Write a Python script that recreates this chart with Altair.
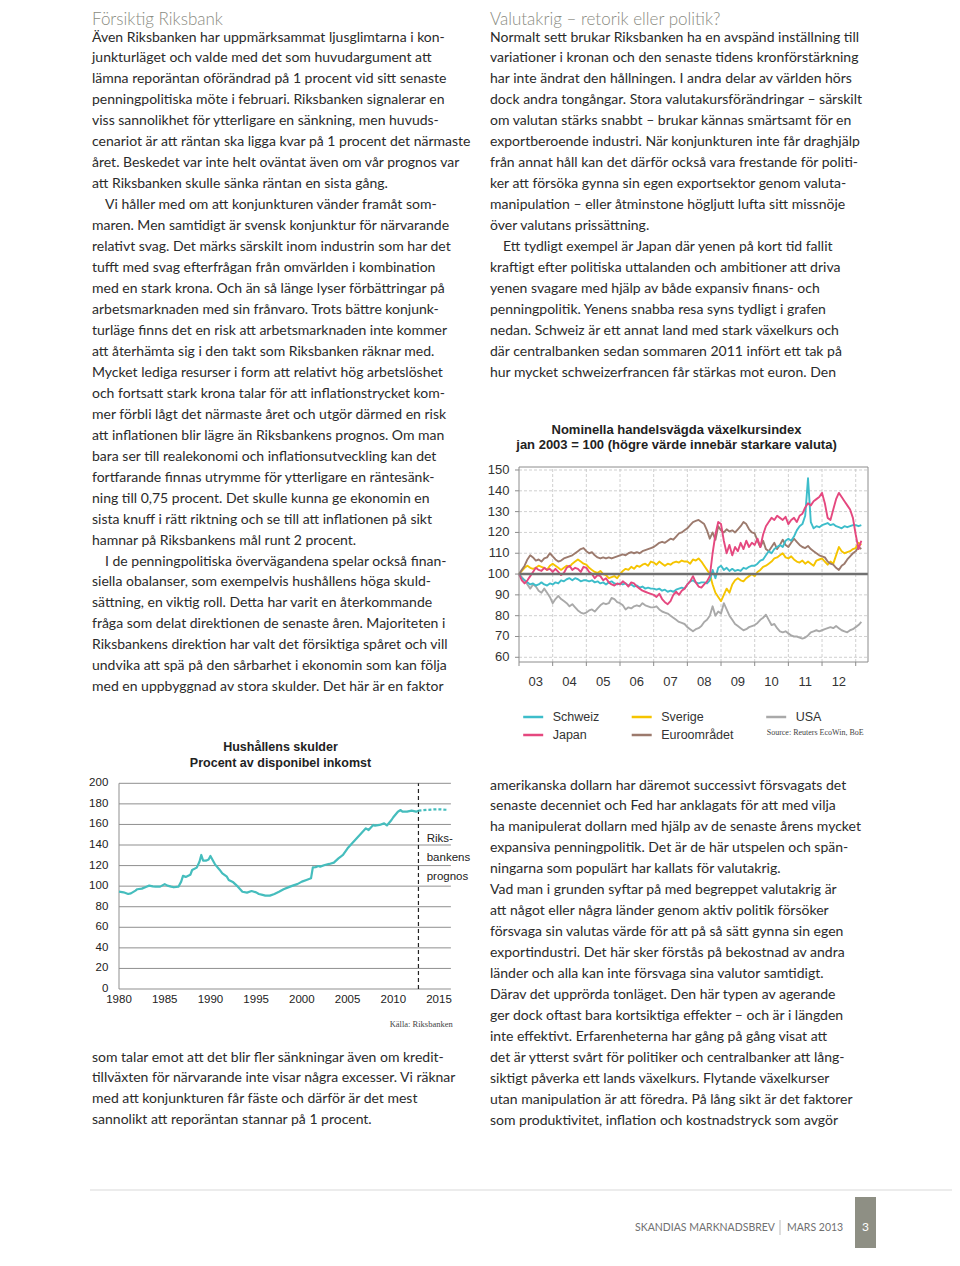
import altair as alt
import pandas as pd

# ------------------------------------------------------------------ fonts / colours
BODY_FONT = "Lato"
CHART_FONT = "Liberation Sans"
SERIF = "Liberation Serif"
BODY_COLOR = "#2b2b2b"
HEAD_COLOR = "#8a8b82"
IND = ">"  # marks a paragraph-indented line

# ------------------------------------------------------------------ page text
title_left = ["Försiktig Riksbank"]
title_right = ["Valutakrig – retorik eller politik?"]

left_top = [
    "Även Riksbanken har uppmärksammat ljusglimtarna i kon-",
    "junkturläget och valde med det som huvudargument att",
    "lämna reporäntan oförändrad på 1 procent vid sitt senaste",
    "penningpolitiska möte i februari. Riksbanken signalerar en",
    "viss sannolikhet för ytterligare en sänkning, men huvuds-",
    "cenariot är att räntan ska ligga kvar på 1 procent det närmaste",
    "året. Beskedet var inte helt oväntat även om vår prognos var",
    "att Riksbanken skulle sänka räntan en sista gång.",
    IND + "Vi håller med om att konjunkturen vänder framåt som-",
    "maren. Men samtidigt är svensk konjunktur för närvarande",
    "relativt svag. Det märks särskilt inom industrin som har det",
    "tufft med svag efterfrågan från omvärlden i kombination",
    "med en stark krona. Och än så länge lyser förbättringar på",
    "arbetsmarknaden med sin frånvaro. Trots bättre  konjunk-",
    "turläge finns det en risk att arbetsmarknaden inte kommer",
    "att återhämta sig i den takt som Riksbanken räknar med.",
    "Mycket lediga resurser i form att relativt hög arbetslöshet",
    "och fortsatt stark krona talar för att inflationstrycket kom-",
    "mer förbli lågt det närmaste året och utgör därmed en risk",
    "att inflationen blir lägre än Riksbankens prognos. Om man",
    "bara ser till realekonomi och inflationsutveckling kan det",
    "fortfarande finnas utrymme för ytterligare en räntesänk-",
    "ning till 0,75 procent. Det skulle kunna ge ekonomin en",
    "sista knuff i rätt riktning och se till att inflationen på sikt",
    "hamnar på Riksbankens mål runt 2 procent.",
    IND + "I de penningpolitiska övervägandena spelar också finan-",
    "siella obalanser, som exempelvis hushållens höga skuld-",
    "sättning, en viktig roll. Detta har varit en återkommande",
    "fråga som delat direktionen de senaste åren. Majoriteten i",
    "Riksbankens direktion har valt det försiktiga spåret och vill",
    "undvika att spä på den sårbarhet i ekonomin som kan följa",
    "med en uppbyggnad av stora skulder. Det här är en faktor",
]
left_bottom = [
    "som talar emot att det blir fler sänkningar även om kredit-",
    "tillväxten för närvarande inte visar några excesser. Vi räknar",
    "med att konjunkturen får fäste och därför är det mest",
    "sannolikt att reporäntan stannar på 1 procent.",
]
right_top = [
    "Normalt sett brukar Riksbanken ha en avspänd inställning till",
    "variationer i kronan och den senaste tidens kronförstärkning",
    "har inte ändrat den hållningen. I andra delar av världen hörs",
    "dock andra tongångar. Stora valutakursförändringar – särskilt",
    "om valutan stärks snabbt – brukar kännas smärtsamt för en",
    "exportberoende industri. När konjunkturen inte får draghjälp",
    "från annat håll kan det därför också vara frestande för politi-",
    "ker att försöka gynna sin egen exportsektor genom valuta-",
    "manipulation – eller åtminstone högljutt lufta sitt missnöje",
    "över valutans prissättning.",
    IND + "Ett tydligt exempel är Japan där yenen på kort tid fallit",
    "kraftigt efter politiska uttalanden och ambitioner att driva",
    "yenen svagare med hjälp av både expansiv finans- och",
    "penningpolitik. Yenens snabba resa syns tydligt i grafen",
    "nedan. Schweiz är ett annat land med stark växelkurs och",
    "där centralbanken sedan sommaren 2011 infört ett tak på",
    "hur mycket schweizerfrancen får stärkas mot euron. Den",
]
right_bottom = [
    "amerikanska dollarn har däremot successivt försvagats det",
    "senaste decenniet och Fed har anklagats för att med vilja",
    "ha manipulerat dollarn med hjälp av de senaste årens mycket",
    "expansiva penningpolitik. Det är de här utspelen och spän-",
    "ningarna som populärt har kallats för valutakrig.",
    "Vad man i grunden syftar på med begreppet valutakrig är",
    "att något eller några länder genom aktiv politik försöker",
    "försvaga sin valutas värde för att på så sätt gynna sin egen",
    "exportindustri. Det här sker förstås på bekostnad av andra",
    "länder och alla kan inte försvaga sina valutor samtidigt.",
    "Därav det upprörda tonläget. Den här typen av agerande",
    "ger dock oftast bara kortsiktiga effekter – och är i längden",
    "inte effektivt. Erfarenheterna har gång på gång visat att",
    "det är ytterst svårt för politiker och centralbanker att lång-",
    "siktigt påverka ett lands växelkurs. Flytande växelkurser",
    "utan manipulation är att föredra. På lång sikt är det faktorer",
    "som produktivitet, inflation och kostnadstryck som avgör",
]

# ------------------------------------------------------------------ chart 1: växelkursindex
fx_title = ["Nominella handelsvägda växelkursindex",
            "jan 2003 = 100 (högre värde innebär starkare valuta)"]
# legend order (filled column by column): Schweiz/Japan, Sverige/Euroområdet, USA
fx_order = ["Schweiz", "Japan", "Sverige", "Euroområdet", "USA"]
fx_colors = ["#3dbdca", "#e5487f", "#f5c400", "#9c7a6d", "#a9a9a9"]
fx_draw = ["USA", "Sverige", "Euroområdet", "Schweiz", "Japan"]
fx_source = "Source: Reuters EcoWin, BoE"

schweiz = [
    100, 98, 97, 96, 95, 95.5, 94.5, 95, 96, 95, 94.5, 95.5,
    95, 96, 95.5, 97, 96.5, 97.5, 98, 97, 98, 97.5, 96.5, 97,
    97, 96.5, 97, 96, 96.5, 95.5, 96, 95, 96, 96.5, 95.5, 95,
    95.5, 95, 95.5, 94.5, 95, 94, 94.5, 93.5, 94, 93, 93.5, 93,
    93, 92.5, 93, 92, 92.5, 91.5, 92, 91.5, 92.5, 93, 93.5, 93,
    95, 96.5, 97, 96, 95.5, 96, 96, 95.5, 97, 102, 98, 103,
    104, 102, 103, 101.5, 102.5, 101.5, 102, 101.5, 103, 102.5, 103.5, 104,
    104, 105, 106.5, 107, 109, 111, 110, 112, 113, 114, 113, 116,
    117, 116, 118, 121, 123, 124, 128, 146, 125, 122, 123, 122.5,
    123.5, 124, 124.5, 123.5, 124, 123, 122.5, 122, 123, 122.5, 123, 123.5,
    123.5, 123, 123.5,
]
sverige = [
    100, 101.5, 103, 104, 103, 102.5, 103, 104, 103.5, 103, 102, 104,
    105, 104, 103, 102, 103, 104, 103.5, 105, 106, 107, 106, 105,
    104.5, 103, 102, 101, 100.5, 101.5, 100, 99.5, 98, 98.5, 99, 98,
    100, 101.5, 102.5, 102, 103.5, 102.5, 104, 103.5, 104.5, 105, 104, 106,
    105.5, 104.5, 106, 105, 104, 105, 104.5, 105.5, 106, 105.5, 106.5, 106,
    106, 105, 107, 106.5, 107.5, 106, 104, 102, 100, 95, 91, 89,
    87, 90, 93, 91, 95, 97, 98, 97, 96.5, 98, 99, 100,
    99, 101, 102, 103.5, 104, 105, 106, 107.5, 108, 109, 110, 108,
    107.5, 108.5, 107, 106, 105.5, 106.5, 105, 106, 105, 104, 106.5, 107,
    107.5, 106, 104.5, 106, 105, 109, 113, 111, 110, 110.5, 111, 112,
    112.5, 115, 114,
]
usa = [
    100, 98.5, 97, 95, 93, 95, 94, 92, 91, 93, 91, 89,
    86, 88, 89.5, 88, 87, 86, 84.5, 85.5, 84, 82.5, 81.5, 81,
    81.5, 82.5, 83, 82, 83.5, 85, 86, 85.5, 86, 88.5, 88, 86.5,
    86, 85, 83, 84, 83.5, 84.5, 85, 84.5, 86, 85, 84.5, 84,
    84, 84.5, 83, 82, 81.5, 81, 80, 79, 78, 77, 76.5, 76,
    74.5, 73.5, 72.5, 73.5, 74, 75, 77, 78, 80, 84.5, 80, 82,
    81, 86, 83, 80, 78, 76, 75, 74, 73, 73.5, 74.5, 75,
    75.5, 76.5, 78, 79, 80.5, 78, 75.5, 76, 74, 72.5, 72, 72.5,
    71.5, 70.5, 70, 70, 69.5, 69, 69.5, 70.5, 72, 72.5, 73, 72.5,
    73, 73.5, 74, 74.5, 74, 75, 74, 73, 72.5, 72, 73, 73.5,
    74.5, 75.5, 77,
]
japan = [
    100, 97, 95.5, 97, 99, 101, 103, 102, 101.5, 103, 102, 102.5,
    101, 102.5, 101, 99.5, 100.5, 103, 104, 102, 103, 102.5, 101, 103.5,
    103, 101, 100, 98, 99.5, 99, 97, 98, 96, 95, 94.5, 95.5,
    95, 96.5, 95.5, 94, 96, 95.5, 94, 93, 92, 91.5, 91, 90.5,
    90, 89, 90.5, 88, 86.5, 85.5, 87, 90, 91.5, 90, 92, 93,
    95, 96.5, 99, 96, 94, 93.5, 95, 96.5, 99, 110, 119, 125,
    124, 116, 110, 114, 109, 113, 111, 115, 112, 116, 113, 115,
    114, 117, 113, 119, 123, 125, 127, 126, 128, 127, 126, 127.5,
    124, 126, 127, 125, 128, 129, 132, 134, 133, 135, 136, 137,
    139, 134, 127, 126, 131, 136, 139, 137, 135, 133, 131, 127,
    119, 112, 116,
]
euro = [
    100, 102, 104, 107, 109, 108, 106.5, 107, 106, 107.5, 108, 110,
    108.5, 107, 106, 106.5, 107.5, 108, 108.5, 109, 110, 111, 112, 112.5,
    111, 110, 110.5, 109, 108, 107.5, 108, 107.5, 108, 107.5, 108, 108.5,
    109, 109.5, 109, 110, 110.5, 110, 110.5, 110, 111, 111.5, 112, 112.5,
    113, 114, 115, 115.5, 115, 116, 117, 116.5, 118, 119.5, 120, 121,
    122, 123.5, 125, 125.5, 126, 125, 124, 121, 117, 120, 116.5, 123,
    121, 120, 121.5, 120.5, 121, 120, 121.5, 123, 125, 124, 121.5, 120,
    119.5, 116, 113, 116, 112, 111, 113, 115, 112, 114, 116.5, 114,
    113, 115, 117, 115.5, 114, 113, 112.5, 113.5, 112, 111, 110, 109,
    108.5, 108, 106, 105, 104.5, 103, 102, 104, 105, 107, 108.5, 110,
    111, 113, 112,
]
fx_values = {"Schweiz": schweiz, "Sverige": sverige, "USA": usa,
             "Japan": japan, "Euroområdet": euro}
fx_months = [(yr, mo) for yr in range(2003, 2014) for mo in range(12)][:123]
for k, v in fx_values.items():
    assert len(v) == len(fx_months), (k, len(v))

fx_ticks_y = [60, 70, 80, 90, 100, 110, 120, 130, 140, 150]
fx_years = list(range(2003, 2014))
fx_year_labels = ["03", "04", "05", "06", "07", "08", "09", "10", "11", "12"]

# ------------------------------------------------------------------ chart 2: hushållens skulder
debt_title = ["Hushållens skulder", "Procent av disponibel inkomst"]
debt_note = ["Riks-", "bankens", "prognos"]
debt_source = "Källa: Riksbanken"
debt_years = [1980.0, 1980.5, 1981.0, 1981.3, 1981.8, 1982.0, 1982.5, 1983.0, 1983.3, 1983.7,
              1984.0, 1984.5, 1985.0, 1985.3, 1985.7, 1986.0, 1986.5, 1986.8, 1987.0, 1987.3,
              1987.8, 1988.0, 1988.5, 1988.8, 1989.0, 1989.2, 1989.5, 1989.8, 1990.0, 1990.3,
              1990.5, 1991.0, 1991.3, 1991.8, 1992.0, 1992.5, 1993.0, 1993.5, 1994.0, 1994.5,
              1995.0, 1995.3, 1995.7, 1996.0, 1996.5, 1997.0, 1997.5, 1998.0, 1998.5, 1999.0,
              1999.5, 2000.0, 2000.5, 2001.0, 2001.2, 2001.5, 2001.8, 2002.0, 2002.5, 2003.0,
              2003.5, 2004.0, 2004.5, 2005.0, 2005.5, 2006.0, 2006.5, 2007.0, 2007.3, 2007.8,
              2008.0, 2008.5, 2009.0, 2009.3, 2009.8, 2010.0, 2010.5, 2010.8, 2011.0, 2011.5,
              2012.0, 2012.5, 2012.75]
debt_values = [94.6, 94.0, 92.4, 93.0, 95.6, 97.0, 97.6, 99.5, 100.5, 99.8,
               99.5, 99.5, 102.0, 100.5, 99.5, 98.9, 99.5, 104.4, 110.0, 109.0,
               111.0, 115.7, 118.0, 123.8, 130.3, 124.8, 124.8, 126.0, 129.3, 124.5,
               121.2, 116.0, 112.5, 109.2, 106.0, 103.7, 99.5, 94.6, 93.7, 95.3,
               94.0, 92.4, 91.5, 90.8, 90.8, 92.4, 94.6, 97.0, 98.8, 100.5,
               102.0, 104.4, 106.0, 107.6, 118.3, 118.5, 119.6, 119.0, 120.6, 121.6,
               122.9, 127.0, 130.3, 136.8, 141.7, 146.5, 151.4, 156.2, 154.6, 159.5,
               158.8, 159.5, 161.0, 159.0, 164.3, 167.0, 172.4, 174.0, 172.4, 172.4,
               173.4, 172.4, 173.4]
assert len(debt_years) == len(debt_values)
prog_years = [2012.75, 2013.25, 2013.75, 2014.25, 2014.75, 2015.25, 2015.75, 2016.0]
prog_values = [173.4, 173.8, 174.2, 174.5, 174.7, 174.6, 174.3, 174.0]
prog_start = 2012.75
debt_ticks_y = [0, 20, 40, 60, 80, 100, 120, 140, 160, 180, 200]
debt_ticks_x = [1980, 1985, 1990, 1995, 2000, 2005, 2010, 2015]

footer_left = "SKANDIAS MARKNADSBREV"
footer_right = "MARS 2013"
page_no = "3"

# ------------------------------------------------------------------ layout (pixels in view)
LH = 20.96
COL_L, COL_R = 84, 482
INDENT_PX = 13

FX_T0, FX_T1, FX_V0, FX_V1 = 2003.0, 2013.365, 57.74, 151.44
FX_XS = alt.Scale(domain=[FX_T0, FX_T1], range=[511, 860], nice=False, zero=False)
FX_YS = alt.Scale(domain=[FX_V0, FX_V1], range=[654, 459], nice=False, zero=False)

D_T0, D_T1, D_V0, D_V1 = 1980.0, 2016.3, 0, 200
D_XS = alt.Scale(domain=[D_T0, D_T1], range=[111, 442.9], nice=False, zero=False)
D_YS = alt.Scale(domain=[D_V0, D_V1], range=[981, 775.3], nice=False, zero=False)


def text_block(lines, x, y0, lh=LH, size=14, font=BODY_FONT, color=BODY_COLOR,
               weight="normal", align="left"):
    df = pd.DataFrame({
        "row": list(range(len(lines))),
        "txt": [s[len(IND):] if s.startswith(IND) else s for s in lines],
        "ind": [1 if s.startswith(IND) else 0 for s in lines],
    })
    return alt.Chart(df).mark_text(
        align=align, baseline="alphabetic", font=font, fontSize=size,
        color=color, fontWeight=weight
    ).encode(
        x=alt.X("ind:Q", scale=alt.Scale(domain=[0, 1], range=[x, x + INDENT_PX],
                                         nice=False, zero=False), axis=None),
        y=alt.Y("row:Q", scale=alt.Scale(domain=[0, 1], range=[y0, y0 + lh],
                                         nice=False, zero=False), axis=None),
        text="txt:N",
    )


def fx_enc(**kw):
    out = {}
    for ch, f in kw.items():
        if ch == "x":
            out[ch] = alt.X(f, type="quantitative", scale=FX_XS, axis=None)
        elif ch == "y":
            out[ch] = alt.Y(f, type="quantitative", scale=FX_YS, axis=None)
        elif ch == "x2":
            out[ch] = alt.X2(f)
        else:
            out[ch] = alt.Y2(f)
    return out


def d_enc(**kw):
    out = {}
    for ch, f in kw.items():
        if ch == "x":
            out[ch] = alt.X(f, type="quantitative", scale=D_XS, axis=None)
        elif ch == "y":
            out[ch] = alt.Y(f, type="quantitative", scale=D_YS, axis=None)
        elif ch == "x2":
            out[ch] = alt.X2(f)
        else:
            out[ch] = alt.Y2(f)
    return out


layers = []

# ---- body text
layers.append(text_block(title_left, COL_L, 16.8, size=17, color=HEAD_COLOR, weight=300))
layers.append(text_block(title_right, COL_R, 16.8, size=17, color=HEAD_COLOR, weight=300))
layers.append(text_block(left_top, COL_L, 33.5))
layers.append(text_block(left_bottom, COL_L, 1053.5))
layers.append(text_block(right_top, COL_R, 33.5))
layers.append(text_block(right_bottom, COL_R, 781.5, lh=20.94))

# ---- chart 1
fx_long = pd.DataFrame({
    "t": [yr + mo / 12 for _ in fx_draw for (yr, mo) in fx_months],
    "v": [val for s in fx_draw for val in fx_values[s]],
    "serie": [s for s in fx_draw for _ in fx_months],
})
hgrid = pd.DataFrame({"v": [g for g in fx_ticks_y if g != 100], "a": FX_T0, "b": FX_T1})
vgrid = pd.DataFrame({"t": fx_years[1:], "a": FX_V0, "b": FX_V1})
frame = pd.DataFrame({"a": [FX_T0], "b": [FX_T1], "c": [FX_V0], "d": [FX_V1]})
base100 = pd.DataFrame({"a": [FX_T0], "b": [FX_T1], "v": [100]})
ylab = pd.DataFrame({"v": fx_ticks_y, "lab": [str(v) for v in fx_ticks_y], "a": FX_T0})
xticks = pd.DataFrame({"t": fx_years, "c": FX_V0})
xlab = pd.DataFrame({"t": [y + 0.5 for y in fx_years[:-1]], "lab": fx_year_labels, "c": FX_V0})

layers.append(alt.Chart(hgrid).mark_rule(stroke="#c4c4c4", strokeDash=[3, 2], strokeWidth=0.8)
              .encode(**fx_enc(y="v", x="a", x2="b")))
layers.append(alt.Chart(vgrid).mark_rule(stroke="#c4c4c4", strokeDash=[3, 2], strokeWidth=0.8)
              .encode(**fx_enc(x="t", y="a", y2="b")))
layers.append(alt.Chart(fx_long).mark_line(strokeWidth=1.9, strokeJoin="round").encode(
    **fx_enc(x="t", y="v"),
    color=alt.Color("serie:N", scale=alt.Scale(domain=fx_order, range=fx_colors),
                    legend=alt.Legend(orient="none", legendX=513.7, legendY=697.5, columns=3,
                                      title=None, symbolType="stroke", symbolSize=400,
                                      symbolStrokeWidth=2.5, labelFont=CHART_FONT,
                                      labelFontSize=12.5, labelColor="#333333",
                                      labelOffset=8, columnPadding=26.5, rowPadding=-5,
                                      padding=0)),
))
layers.append(alt.Chart(base100).mark_rule(stroke="#707070", strokeWidth=2.5)
              .encode(**fx_enc(y="v", x="a", x2="b")))
layers.append(alt.Chart(frame).mark_rect(filled=False, stroke="#8c8c8c", strokeWidth=1)
              .encode(**fx_enc(x="a", x2="b", y="c", y2="d")))
layers.append(alt.Chart(ylab).mark_rule(stroke="#8c8c8c", x2Offset=-4)
              .encode(**fx_enc(y="v", x="a", x2="a")))
layers.append(alt.Chart(xticks).mark_rule(stroke="#8c8c8c", y2Offset=4)
              .encode(**fx_enc(x="t", y="c", y2="c")))
layers.append(alt.Chart(ylab).mark_text(align="right", baseline="middle", dx=-9.5,
                                        font=CHART_FONT, fontSize=13, color="#333333")
              .encode(**fx_enc(y="v", x="a"), text="lab:N"))
layers.append(alt.Chart(xlab).mark_text(align="center", baseline="middle", dy=19.7,
                                        font=CHART_FONT, fontSize=13, color="#333333")
              .encode(**fx_enc(x="t", y="c"), text="lab:N"))
layers.append(text_block(fx_title, 668.5, 425.5, lh=15.3, size=13, font=CHART_FONT,
                         color="#222222", weight="bold", align="center"))
layers.append(text_block([fx_source], 758.7, 726.5, size=8, font=SERIF, color="#444444"))

# ---- chart 2
d_hist = pd.DataFrame({"t": debt_years, "v": debt_values})
d_prog = pd.DataFrame({"t": prog_years, "v": prog_values})
d_grid = pd.DataFrame({"v": debt_ticks_y, "a": D_T0, "b": D_T1, "lab": [str(v) for v in debt_ticks_y]})
d_axis = pd.DataFrame({"a": [D_T0], "c": [D_V0], "d": [D_V1]})
d_xlab = pd.DataFrame({"t": debt_ticks_x, "lab": [str(v) for v in debt_ticks_x], "c": D_V0})
d_split = pd.DataFrame({"t": [prog_start], "c": [D_V0], "d": [D_V1]})

layers.append(alt.Chart(d_grid).mark_rule(stroke="#8f8f8f", strokeWidth=1)
              .encode(**d_enc(y="v", x="a", x2="b")))
layers.append(alt.Chart(d_axis).mark_rule(stroke="#8f8f8f", strokeWidth=1)
              .encode(**d_enc(x="a", y="c", y2="d")))
layers.append(alt.Chart(d_split).mark_rule(stroke="#222222", strokeWidth=1.2, strokeDash=[4, 3])
              .encode(**d_enc(x="t", y="c", y2="d")))
layers.append(alt.Chart(d_hist).mark_line(stroke="#45bdbd", strokeWidth=2.2, strokeJoin="round")
              .encode(**d_enc(x="t", y="v")))
layers.append(alt.Chart(d_prog).mark_line(stroke="#45bdbd", strokeWidth=2.2, strokeDash=[3, 2])
              .encode(**d_enc(x="t", y="v")))
layers.append(alt.Chart(d_grid).mark_text(align="right", baseline="middle", dx=-10.7,
                                          font=CHART_FONT, fontSize=11.5, color="#222222")
              .encode(**d_enc(y="v", x="a"), text="lab:N"))
layers.append(alt.Chart(d_xlab).mark_text(align="center", baseline="middle", dy=11,
                                          font=CHART_FONT, fontSize=11.5, color="#222222")
              .encode(**d_enc(x="t", y="c"), text="lab:N"))
layers.append(text_block(debt_title, 272.5, 742.5, lh=16.3, size=12.5, font=CHART_FONT,
                         color="#222222", weight="bold", align="center"))
layers.append(text_block(debt_note, 418.7, 834, lh=18.9, size=11.5, font=CHART_FONT,
                         color="#222222"))
layers.append(text_block([debt_source], 444.7, 1018.5, size=8.5, font=SERIF,
                         color="#444444", align="right"))

# ---- footer
foot_line = pd.DataFrame({"a": [82], "b": [952], "y": [1182]})
layers.append(alt.Chart(foot_line).mark_rule(stroke="#cfcfcf", strokeWidth=0.8).encode(
    x=alt.X("a:Q", scale=None, axis=None), x2="b:Q", y=alt.Y("y:Q", scale=None, axis=None)))
foot_box = pd.DataFrame({"a": [847], "b": [868], "c": [1189], "d": [1240]})
layers.append(alt.Chart(foot_box).mark_rect(fill="#8e8f84").encode(
    x=alt.X("a:Q", scale=None, axis=None), x2="b:Q",
    y=alt.Y("c:Q", scale=None, axis=None), y2="d:Q"))
foot_sep = pd.DataFrame({"a": [772], "c": [1212], "d": [1227]})
layers.append(alt.Chart(foot_sep).mark_rule(stroke="#bdbdbd", strokeWidth=1).encode(
    x=alt.X("a:Q", scale=None, axis=None),
    y=alt.Y("c:Q", scale=None, axis=None), y2="d:Q"))
layers.append(text_block([footer_left], 627, 1223, size=10.5, color="#707070"))
layers.append(text_block([footer_right], 779, 1223, size=10.5, color="#707070"))
layers.append(text_block([page_no], 857.5, 1223, size=12, color="#ffffff", align="center"))

chart = alt.layer(*layers).resolve_scale(
    x="independent", y="independent", color="independent"
).properties(
    width=944, height=1240, autosize=alt.AutoSizeParams(type="none"), padding=0
).configure_view(stroke=None)

chart.save("out.html", embed_options={"renderer": "svg", "actions": False})
